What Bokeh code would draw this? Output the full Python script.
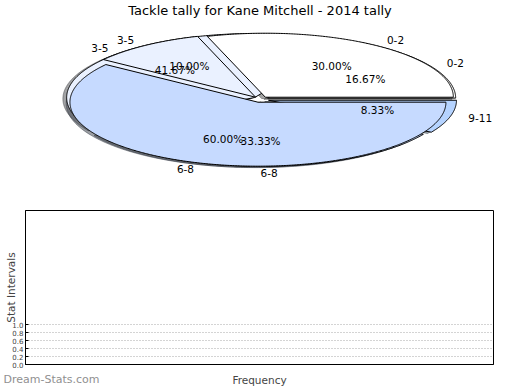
import numpy as np
from bokeh.plotting import figure
from bokeh.layouts import column
from bokeh.models import ColumnDataSource, Label, Range1d, FixedTicker, PrintfTickFormatter
from bokeh.core.properties import value
from bokeh.embed import file_html
from bokeh.resources import INLINE

# ---------------- data ----------------
title_text = "Tackle tally for Kane Mitchell - 2014 tally"
categories_a = ["0-2", "3-5", "6-8"]
values_a = [30.00, 10.00, 60.00]
categories_b = ["0-2", "3-5", "6-8", "9-11"]
values_b = [16.67, 41.67, 33.33, 8.33]
y_ticks = [0.0, 0.2, 0.4, 0.6, 0.8, 1.0]
y_tick_labels = ["0.0", "0.2", "0.4", "0.6", "0.8", "1.0"]
x_axis_title = "Frequency"
y_axis_title = "Stat Intervals"
watermark = "Dream-Stats.com"

# ---------------- style ----------------
slice_colors = ["#ffffff", "#eaf1ff", "#c6daff", "#b5d3ff"]
EXPLODE = 0.044
LABEL_DIST = 1.1
PCT_DIST = 0.6
SHADOW_DX, SHADOW_DY = -0.02, -0.02
FONT = value("DejaVu Sans")
BORDER_L, BORDER_R = 25, 11          # shared frame borders (column aligns frames)
FRAME_W = 504 - BORDER_L - BORDER_R
RX, RY = 188, 64                      # pixel radii of the squashed pie
PIE_CX, PIE_CY = 260, 99              # pie centre on the top canvas
WM_POS = 26 / FRAME_W                 # horizontal spot of the watermark under the frame


def shade(hexcol, rho=0.3):
    h = hexcol.lstrip("#")
    r, g, b = (int(h[i:i + 2], 16) for i in (0, 2, 4))
    return "#%02x%02x%02x" % (int(r * rho), int(g * rho), int(b * rho))


def build_wedges(cats, vals):
    total = float(sum(vals))
    start = 0.0
    res = []
    for i, (c, v) in enumerate(zip(cats, vals)):
        span = 360.0 * v / total
        t1, t2 = start, start + span
        mid = np.deg2rad(0.5 * (t1 + t2))
        cx, cy = EXPLODE * np.cos(mid), EXPLODE * np.sin(mid)
        th = np.deg2rad(np.linspace(t1, t2, max(int(span * 2), 6)))
        xs = [cx] + list(cx + np.cos(th)) + [cx]
        ys = [cy] + list(cy + np.sin(th)) + [cy]
        res.append(dict(cat=c, pct=100.0 * v / total, xs=xs, ys=ys, mid=mid,
                        cx=cx, cy=cy, color=slice_colors[i % len(slice_colors)]))
        start = t2
    return res


wa = build_wedges(categories_a, values_a)
wb = build_wedges(categories_b, values_b)

# ---------------- pie figure ----------------
H1 = 186
p1 = figure(width=504, height=H1, output_backend="svg", toolbar_location=None,
            x_range=Range1d((BORDER_L - PIE_CX) / RX, (504 - BORDER_R - PIE_CX) / RX),
            y_range=Range1d(-(H1 - PIE_CY) / RY, PIE_CY / RY),
            x_axis_type=None, y_axis_type=None,
            min_border_left=BORDER_L, min_border_right=BORDER_R,
            min_border_top=0, min_border_bottom=0,
            outline_line_color=None, background_fill_color="white")
p1.grid.visible = False

# shadows (below every wedge)
for w in wb + wa:
    sh = shade(w["color"])
    p1.patch([x + SHADOW_DX for x in w["xs"]], [y + SHADOW_DY for y in w["ys"]],
             fill_color=sh, fill_alpha=0.5, line_color=sh, line_alpha=0.5, line_width=1)

# wedges: second series beneath, first series on top
for w in wb + wa:
    p1.patch(w["xs"], w["ys"], fill_color=w["color"], line_color="black", line_width=1)

left_lab = dict(x=[], y=[], t=[])
right_lab = dict(x=[], y=[], t=[])
pct_lab = dict(x=[], y=[], t=[])
for w in wb + wa:
    lx = w["cx"] + LABEL_DIST * np.cos(w["mid"])
    ly = w["cy"] + LABEL_DIST * np.sin(w["mid"])
    tgt = left_lab if lx > 0 else right_lab
    tgt["x"].append(lx); tgt["y"].append(ly); tgt["t"].append(w["cat"])
    pct_lab["x"].append(w["cx"] + PCT_DIST * np.cos(w["mid"]))
    pct_lab["y"].append(w["cy"] + PCT_DIST * np.sin(w["mid"]))
    pct_lab["t"].append("%.2f%%" % w["pct"])

for src, align in ((left_lab, "left"), (right_lab, "right"), (pct_lab, "center")):
    p1.text(x="x", y="y", text="t", source=ColumnDataSource(src), text_align=align,
            text_baseline="middle", text_font=FONT, text_font_size="10.5px",
            text_color="black")

p1.add_layout(Label(x=-0.5 / RX, y=(PIE_CY - 10) / RY, text=title_text, text_align="center",
                    text_baseline="middle", text_font="DejaVu Sans",
                    text_font_size="13px", text_color="black"))

# ---------------- empty bar panel ----------------
H2 = 202
TOP2, BOT2 = 24, 19
PX_PER_UNIT = 41.0
p2 = figure(width=504, height=H2, output_backend="svg", toolbar_location=None,
            x_range=Range1d(0, 1), y_range=Range1d(0, (H2 - TOP2 - BOT2) / PX_PER_UNIT),
            min_border_left=BORDER_L, min_border_right=BORDER_R, min_border_top=TOP2,
            min_border_bottom=BOT2, outline_line_color="black", outline_line_width=1,
            background_fill_color="white")
p2.xgrid.visible = False

p2.yaxis.ticker = FixedTicker(ticks=y_ticks)
p2.yaxis.formatter = PrintfTickFormatter(format="%.1f")
p2.yaxis.major_label_overrides = {t: s for t, s in zip(y_ticks, y_tick_labels)}
p2.yaxis.major_label_text_font = "DejaVu Sans"
p2.yaxis.major_label_text_font_size = "7px"
p2.yaxis.major_label_standoff = 2
p2.yaxis.major_tick_in = 3
p2.yaxis.major_tick_out = 0
p2.yaxis.minor_tick_line_color = None
p2.yaxis.axis_line_color = "black"
p2.yaxis.axis_label = y_axis_title
p2.yaxis.axis_label_text_font = "DejaVu Sans"
p2.yaxis.axis_label_text_font_size = "10.5px"
p2.yaxis.axis_label_text_font_style = "normal"
p2.yaxis.axis_label_standoff = -8

p2.ygrid.grid_line_color = "#a8a8a8"
p2.ygrid.grid_line_dash = "1 2"
p2.ygrid.grid_line_width = 1

# x axis: no value ticks; the site watermark sits in the label row at left
p2.xaxis.ticker = FixedTicker(ticks=[WM_POS])
p2.xaxis.major_label_overrides = {WM_POS: watermark}
p2.xaxis.major_label_text_font = "DejaVu Sans"
p2.xaxis.major_label_text_font_size = "11px"
p2.xaxis.major_label_text_color = "#909090"
p2.xaxis.major_label_standoff = 8
p2.xaxis.major_tick_out = 0
p2.xaxis.major_tick_in = 0
p2.xaxis.minor_tick_line_color = None
p2.xaxis.axis_line_color = "black"
p2.xaxis.axis_label = x_axis_title
p2.xaxis.axis_label_text_font = "DejaVu Sans"
p2.xaxis.axis_label_text_font_size = "10.5px"
p2.xaxis.axis_label_text_font_style = "normal"
p2.xaxis.axis_label_standoff = -15

layout = column(p1, p2, spacing=0)
open("out.html", "w").write(file_html(layout, INLINE))
